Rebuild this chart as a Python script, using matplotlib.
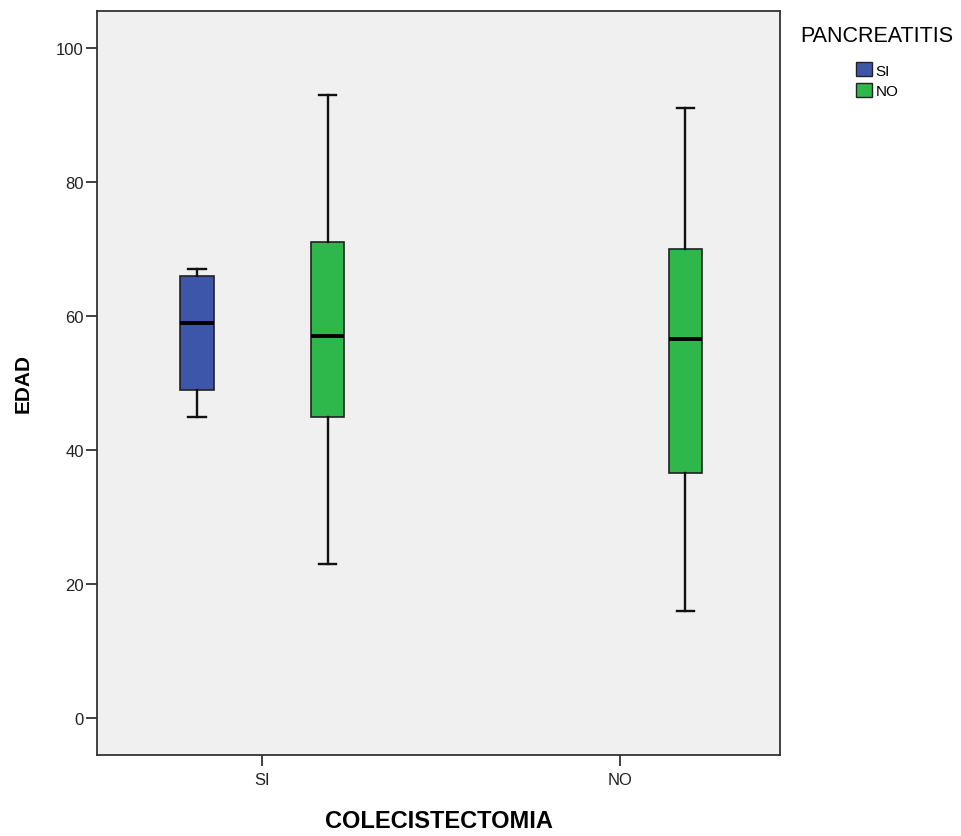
import matplotlib
matplotlib.use("Agg")
import matplotlib.pyplot as plt
from matplotlib.patches import Patch

plt.rcParams['font.family'] = ['Liberation Sans', 'DejaVu Sans']

categories = ["SI", "NO"]
series = ["SI", "NO"]
colors = {"SI": "#3D56AA", "NO": "#2EB74A"}
# stats: (category, series, whislo, q1, med, q3, whishi)
boxes = [
    ("SI", "SI", 45, 49, 59, 66, 67),
    ("SI", "NO", 23, 45, 57, 71, 93),
    ("NO", "NO", 16, 36.5, 56.5, 70, 91),
]
yticks = [0, 20, 40, 60, 80, 100]

fig = plt.figure(figsize=(9.62, 8.37), dpi=100)
ax = fig.add_axes([97/962, 1-756/837, (780-97)/962, (756-12)/837])
ax.set_facecolor("#F0F0F0")

offset = {"SI": -0.182, "NO": 0.183}
for cat, ser, lo, q1, med, q3, hi in boxes:
    pos = categories.index(cat) + offset[ser]
    st = [dict(whislo=lo, q1=q1, med=med, q3=q3, whishi=hi, fliers=[])]
    ax.bxp(st, positions=[pos], widths=0.093, patch_artist=True, showfliers=False,
           boxprops=dict(facecolor=colors[ser], edgecolor="#222222", linewidth=1.2),
           medianprops=dict(color="black", linewidth=2.8),
           whiskerprops=dict(color="#111111", linewidth=1.7),
           capprops=dict(color="#111111", linewidth=1.7),
           capwidths=0.05)

ax.set_xlim(-0.461, 1.447)
ax.set_ylim(-5.5, 105.5)
ax.set_xticks(range(len(categories)))
ax.set_xticklabels(categories)
ax.set_yticks(yticks)
ax.tick_params(axis='both', length=8, width=1.3, color="#333333", labelsize=12, labelcolor="#222222")
ax.tick_params(axis='y', pad=1.5)
ax.tick_params(axis='x', pad=4)
for s in ax.spines.values():
    s.set_linewidth(1.3)
    s.set_color("#333333")

ax.set_ylabel("EDAD", fontsize=15, fontweight="bold", labelpad=17)
ax.set_xlabel("COLECISTECTOMIA", fontsize=17, fontweight="bold", labelpad=16)

handles = [Patch(facecolor=colors[s], edgecolor="#222222", label=s) for s in series]
leg = fig.legend(handles=handles, title="PANCREATITIS", loc="upper center",
                 bbox_to_anchor=(877/962, 1-18/837), frameon=False,
                 fontsize=11, title_fontsize=15.5, handlelength=1.05, handleheight=1.05,
                 handletextpad=0.25, labelspacing=0.35, borderpad=0)
leg._legend_box.align = "center"
leg._legend_box.sep = 12

fig.savefig("out.png", dpi=100, facecolor="white")
